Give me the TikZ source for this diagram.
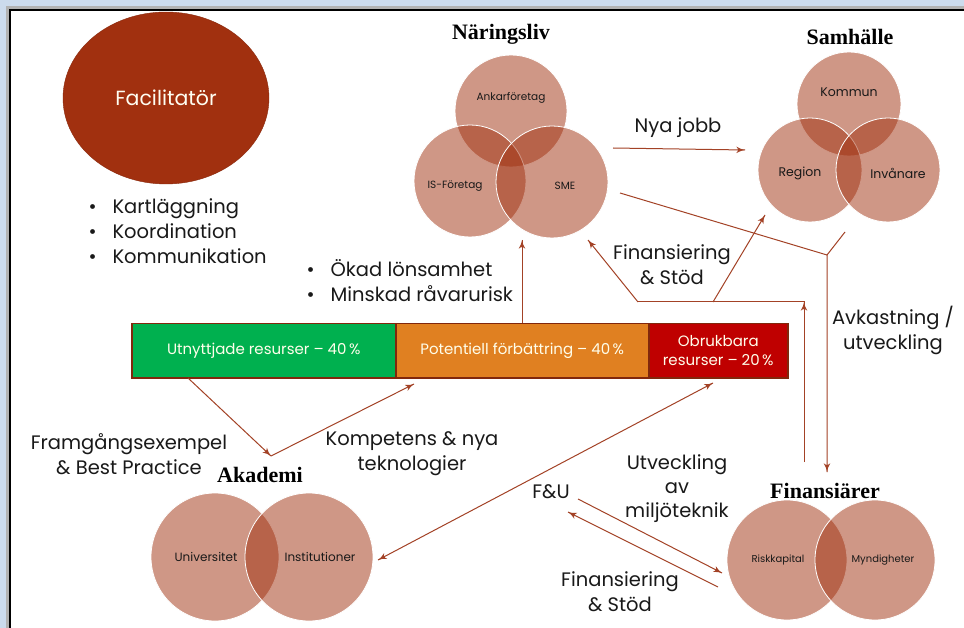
\documentclass[tikz,border=0pt]{standalone}
\usepackage{fontspec}
\setmainfont{Poppins}
\newfontfamily\headfont{Liberation Serif}
\usepackage{tikz}
\usetikzlibrary{arrows}
\usetikzlibrary{decorations.markings}
\usetikzlibrary{shapes.geometric}
\usetikzlibrary{positioning}
\tikzset{->/.style = {decoration={markings,
                                  mark=at position 1 with {\arrow[scale=1.5]{latex'}}},
                      postaction={decorate}}}
\tikzset{<->/.style = {decoration={markings,
                                   mark=at position 0 with {\arrowreversed[scale=1.5]{latex'}},
                                   mark=at position 1 with {\arrow[scale=1.5]{latex'}}},
                       postaction={decorate}}}
\definecolor{mrust}{rgb}{0.63, 0.19, 0.06}
\definecolor{mline}{rgb}{0.64, 0.26, 0.15}
\definecolor{mgreen}{rgb}{0, 0.69, 0.31}
\definecolor{morange}{rgb}{0.88, 0.5, 0.13}
\definecolor{mred}{rgb}{0.75, 0, 0}
\definecolor{mtext}{rgb}{0.1, 0.1, 0.1}
\definecolor{mback}{rgb}{0.80, 0.86, 0.93}
\tikzset{venn/.style = {circle, fill=mrust, fill opacity=0.5, draw=white, line width=0.8, minimum size=#1, inner sep=0},
         vlabel/.style = {text=mtext, font=\fontsize{#1}{#1}\selectfont, inner sep=0},
         heading/.style = {text=black, font=\headfont\bfseries\fontsize{22}{22}\selectfont},
         txt/.style = {text=mtext, align=center, font=\fontsize{19.5}{25}\selectfont},
         barpart/.style = {anchor=north west, minimum height=54, inner sep=0, draw=mrust!80!black,
                           line width=1.5, text=white!92!yellow, align=center,
                           font=\fontsize{15}{19}\selectfont},
         link/.style = {mline, line width=1}}

\begin{document}
\begin{tikzpicture}[x=1pt, y=-1pt]
    \useasboundingbox (0, 0) rectangle (964, 628);
    \fill [mback] (0, 0) rectangle (964, 628);
    \fill [black!30] (6, 6) rectangle (980, 640);
    \filldraw [fill=white, draw=black, line width=2] (10, 10) rectangle (980, 640);

    % facilitator and its tasks
    \node (fac) [ellipse, fill=mrust, draw=mrust!85!black, minimum width=206, minimum height=172,
                 text=white!95!yellow, font=\fontsize{20.5}{20}\selectfont] at (166, 98) {Facilitatör};
    \node (tasks) [anchor=west, txt] at (85, 234)
        {\begin{tabular}{@{}l@{\hspace{16pt}}l@{}}
           \textbullet & Kartläggning\\
           \textbullet & Koordination\\
           \textbullet & Kommunikation
         \end{tabular}};

    % Näringsliv
    \node (nar) [heading] at (501, 34) {Näringsliv};
    \node (nar-a) [venn=112] at (511, 111) {};
    \node (nar-is) [venn=112] at (470, 181) {};
    \node (nar-sme) [venn=112] at (552, 182) {};
    \node (nar-a-l) [vlabel=10.5] at (511, 98) {Ankarföretag};
    \node (nar-is-l) [vlabel=10.5] at (455, 186) {IS-Företag};
    \node (nar-sme-l) [vlabel=10.5] at (565, 186) {SME};

    % Samhälle
    \node (sam) [heading] at (850, 37) {Samhälle};
    \node (sam-k) [venn=104] at (849, 104) {};
    \node (sam-r) [venn=104] at (810, 170) {};
    \node (sam-i) [venn=104] at (888, 170) {};
    \node (sam-k-l) [vlabel=12.5] at (849, 92) {Kommun};
    \node (sam-r-l) [vlabel=12.5] at (800, 173) {Region};
    \node (sam-i-l) [vlabel=12.5] at (898, 173) {Invånare};

    % Akademi
    \node (aka) [heading] at (260, 475) {Akademi};
    \node (aka-u) [venn=128] at (215, 557) {};
    \node (aka-i) [venn=128] at (309, 557) {};
    \node (aka-u-l) [vlabel=12] at (206, 557) {Universitet};
    \node (aka-i-l) [vlabel=12] at (320, 557) {Institutioner};

    % Finansiärer
    \node (fin) [heading] at (825, 491) {Finansiärer};
    \node (fin-r) [venn=120] at (787, 560) {};
    \node (fin-m) [venn=120] at (875, 560) {};
    \node (fin-r-l) [vlabel=10] at (778, 560) {Riskkapital};
    \node (fin-m-l) [vlabel=10] at (883, 560) {Myndigheter};

    % resource bar
    \node (used) [barpart, fill=mgreen, minimum width=264] at (131, 323) {Utnyttjade resurser -- 40\,\%};
    \node (pot) [barpart, fill=morange, minimum width=253] at (395, 323) {Potentiell förbättring -- 40\,\%};
    \node (obr) [barpart, fill=mred, minimum width=139] at (648, 323) {Obrukbara\\resurser -- 20\,\%};

    \node (gains) [anchor=west, txt] at (303, 284)
        {\begin{tabular}{@{}l@{\hspace{16pt}}l@{}}
           \textbullet & Ökad lönsamhet\\
           \textbullet & Minskad råvarurisk
         \end{tabular}};

    % free ends of the links
    \coordinate (nar-in) at (522, 240);
    \coordinate (jobb-s) at (613, 148);
    \coordinate (jobb-e) at (745, 150);
    \coordinate (avk-n) at (620, 193);
    \coordinate (avk-s) at (845, 232);
    \coordinate (avk-j) at (827, 255);
    \coordinate (fin-in) at (827, 472);
    \coordinate (stod-up) at (804, 462);
    \coordinate (stod-j) at (804, 302);
    \coordinate (stod-l) at (638, 302);
    \coordinate (stod-r) at (805, 302);
    \coordinate (stod-m) at (713, 302);
    \coordinate (nar-stod) at (588, 240);
    \coordinate (sam-stod) at (765, 215);
    \coordinate (used-out) at (188, 378);
    \coordinate (aka-in) at (271, 456);
    \coordinate (pot-in) at (414, 384);
    \coordinate (inst-in) at (378, 560);
    \coordinate (obr-in) at (713, 383);
    \coordinate (fu-a) at (578, 499);
    \coordinate (fin-fu) at (722, 573);
    \coordinate (fin-st) at (718, 587);
    \coordinate (fu-b) at (568, 512);

    \draw [link, ->] (pot.north -| nar-in) -- (nar-in);
    \draw [link, ->] (jobb-s) -- (jobb-e);
    \draw [link, ->] (avk-n) -- (avk-j) -- (fin-in);
    \draw [link] (avk-s) -- (avk-j);
    \draw [link, ->] (stod-up) -- (stod-j);
    \draw [link] (stod-l) -- (stod-r);
    \draw [link, ->] (stod-l) -- (nar-stod);
    \draw [link, ->] (stod-m) -- (sam-stod);
    \draw [link, ->] (used-out) -- (aka-in);
    \draw [link, ->] (aka-in) -- (pot-in);
    \draw [link, <->] (inst-in) -- (obr-in);
    \draw [link, ->] (fu-a) -- (fin-fu);
    \draw [link, ->] (fin-st) -- (fu-b);

    % link labels
    \node (jobb) [txt] at (678, 128) {Nya jobb};
    \node (stod) [txt] at (672, 265) {Finansiering\\\& Stöd};
    \node (avk) [txt] at (893, 330) {Avkastning /\\utveckling};
    \node (best) [txt] at (129, 454) {Framgångsexempel\\\& Best Practice};
    \node (komp) [txt] at (412, 454) {Kompetens \& nya\\teknologier};
    \node (fu) [txt] at (551, 492) {F\&U};
    \node (miljo) [txt, font=\fontsize{19.5}{24}\selectfont] at (677, 489) {Utveckling\\av\\miljöteknik};
    \node (stod2) [txt] at (620, 592) {Finansiering\\\& Stöd};
\end{tikzpicture}
\end{document}
